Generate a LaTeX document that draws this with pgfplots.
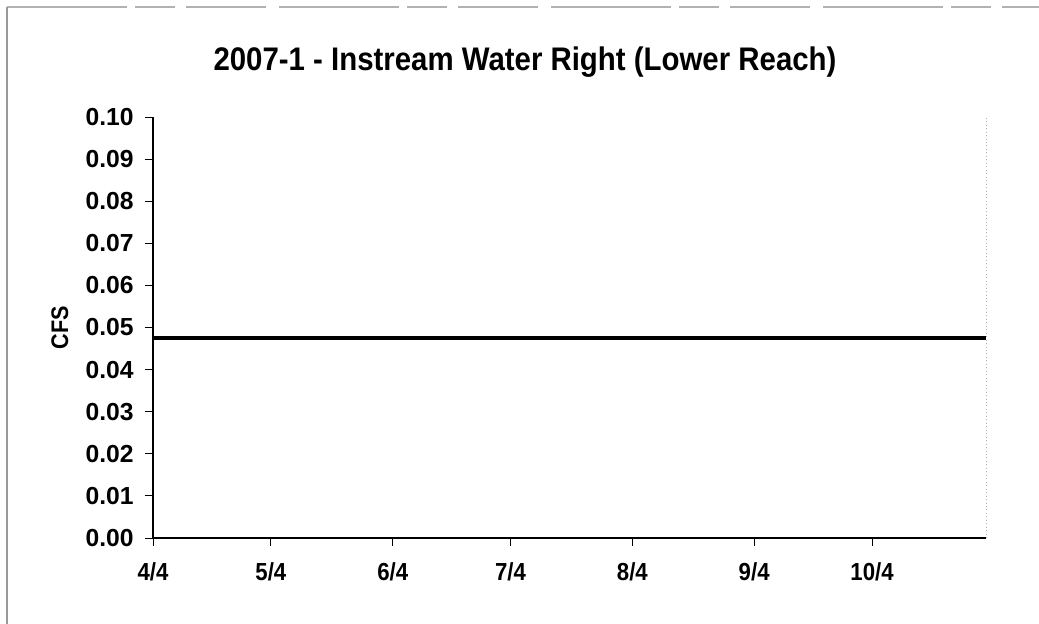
\documentclass[border=0pt]{standalone}
\usepackage{fontspec}
\setmainfont{Liberation Sans}
\newfontfamily\narrow{Liberation Sans}[FakeStretch=0.9]
\usepackage{pgfplots}
\pgfplotsset{compat=1.18}
\begin{document}
\begin{tikzpicture}[x=0.75pt,y=0.75pt]
\useasboundingbox (0,0) rectangle (1039,624);
% outer frame remnants (scan)
\draw[gray!60, line width=0.9pt, dash pattern=on 90pt off 6pt on 30pt off 8pt on 60pt off 10pt] (7,617) -- (1039,617);
\draw[gray!80, line width=0.8pt] (7,617) -- (7,0);
\node[font=\narrow\bfseries\fontsize{24.5pt}{28pt}\selectfont, anchor=center] at (525,562) {2007-1 - Instream Water Right (Lower Reach)};
\begin{axis}[
  at={(114.75pt,64.5pt)}, anchor=south west,
  scale only axis,
  width=624.75pt, height=315.75pt,
  xmin=0, xmax=212, ymin=0, ymax=0.10,
  axis x line*=bottom, axis y line*=left,
  axis line style={black, line width=0.8pt},
  xtick={0,30,61,91,122,153,183},
  xticklabels={4/4,5/4,6/4,7/4,8/4,9/4,10/4},
  ytick={0,0.01,0.02,0.03,0.04,0.05,0.06,0.07,0.08,0.09,0.10},
  yticklabel style={/pgf/number format/fixed, /pgf/number format/fixed zerofill, /pgf/number format/precision=2, xshift=-5pt, font=\bfseries\fontsize{18.5pt}{20pt}\selectfont},
  /pgf/number format/assume math mode=true,
  xticklabel style={yshift=-9pt, font=\narrow\bfseries\fontsize{18.5pt}{20pt}\selectfont},
  tick style={black, line width=0.6pt},
  major tick length=6pt,
  tick align=outside,
  ylabel={CFS},
  ylabel style={font=\narrow\bfseries\fontsize{18pt}{20pt}\selectfont, yshift=6pt},
  clip=false,
]
\addplot[black, line width=2.8pt] coordinates {(0,0.0475) (212,0.0475)};
\draw[gray!60, line width=0.6pt, dotted] (axis cs:212,0) -- (axis cs:212,0.10);
\end{axis}
\end{tikzpicture}
\end{document}
